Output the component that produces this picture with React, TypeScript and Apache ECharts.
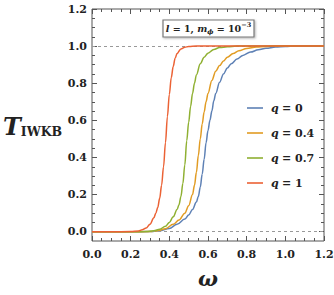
import React, { useEffect, useRef } from 'react';
import * as echarts from 'echarts';

// Tick positions
const xMajorTicks = [0, 0.2, 0.4, 0.6, 0.8, 1.0, 1.2];
const xMinorTicks = [0.05, 0.1, 0.15, 0.25, 0.3, 0.35, 0.45, 0.5, 0.55, 0.65, 0.7, 0.75, 0.85, 0.9, 0.95, 1.05, 1.1, 1.15];
const yMajorTicks = [0, 0.2, 0.4, 0.6, 0.8, 1.0, 1.2];
const yMinorTicks = [0.05, 0.1, 0.15, 0.25, 0.3, 0.35, 0.45, 0.5, 0.55, 0.65, 0.7, 0.75, 0.85, 0.9, 0.95, 1.05, 1.1, 1.15];
const referenceLevels = [0, 1];

const seriesNames = ['q = 0', 'q = 0.4', 'q = 0.7', 'q = 1'];

// q = 0
const q0Omega = [0, 0.2, 0.3, 0.35, 0.4, 0.44, 0.48, 0.5, 0.52, 0.54, 0.55, 0.56, 0.57, 0.58, 0.59, 0.6, 0.61, 0.62, 0.63, 0.64, 0.66, 0.68, 0.7, 0.72, 0.75, 0.78, 0.82, 0.86, 0.9, 0.95, 1.0, 1.05, 1.2];
const q0T = [0, 0, 0.001, 0.005, 0.018, 0.04, 0.068, 0.09, 0.12, 0.16, 0.19, 0.24, 0.31, 0.39, 0.48, 0.545, 0.6, 0.65, 0.705, 0.745, 0.805, 0.85, 0.882, 0.905, 0.93, 0.95, 0.968, 0.98, 0.988, 0.995, 0.998, 1, 1];

// q = 0.4
const q04Omega = [0, 0.2, 0.3, 0.34, 0.38, 0.42, 0.45, 0.48, 0.5, 0.52, 0.53, 0.54, 0.55, 0.56, 0.57, 0.58, 0.59, 0.6, 0.62, 0.64, 0.66, 0.68, 0.7, 0.73, 0.76, 0.8, 0.85, 0.9, 0.95, 1.0, 1.2];
const q04T = [0, 0, 0.001, 0.005, 0.016, 0.04, 0.063, 0.1, 0.14, 0.2, 0.25, 0.32, 0.41, 0.5, 0.58, 0.645, 0.7, 0.745, 0.815, 0.865, 0.895, 0.92, 0.94, 0.96, 0.975, 0.987, 0.995, 0.998, 1, 1, 1];

// q = 0.7
const q07Omega = [0, 0.2, 0.28, 0.32, 0.35, 0.38, 0.4, 0.42, 0.44, 0.45, 0.46, 0.47, 0.48, 0.49, 0.5, 0.51, 0.52, 0.53, 0.54, 0.56, 0.58, 0.6, 0.63, 0.66, 0.7, 0.75, 0.8, 1.0, 1.2];
const q07T = [0, 0, 0.001, 0.005, 0.013, 0.03, 0.05, 0.08, 0.12, 0.145, 0.19, 0.26, 0.36, 0.49, 0.59, 0.675, 0.745, 0.8, 0.845, 0.905, 0.94, 0.962, 0.982, 0.992, 0.997, 1, 1, 1, 1];

// q = 1
const q1Omega = [0, 0.1, 0.2, 0.24, 0.26, 0.28, 0.3, 0.32, 0.33, 0.34, 0.35, 0.36, 0.37, 0.38, 0.39, 0.4, 0.41, 0.42, 0.43, 0.44, 0.46, 0.48, 0.5, 0.54, 0.6, 0.8, 1.0, 1.2];
const q1T = [0, 0, 0.001, 0.004, 0.01, 0.02, 0.04, 0.075, 0.1, 0.13, 0.18, 0.25, 0.35, 0.48, 0.62, 0.74, 0.83, 0.89, 0.935, 0.96, 0.985, 0.994, 0.998, 1, 1, 1, 1, 1];

const seriesOmega = [q0Omega, q04Omega, q07Omega, q1Omega];
const seriesT = [q0T, q04T, q07T, q1T];
const seriesColors = ['#5E81B5', '#E19C24', '#8FB032', '#EB6235'];

const FONT = 'DejaVu Serif';
const FRAME = '#555';
const TEXT = '#222';

function makeAxis(kind: 'x' | 'y', position: string, ticks: number[], len: number, labels: boolean) {
  const isX = kind === 'x';
  return {
    type: 'value',
    position,
    min: isX ? 0 : -0.05,
    max: 1.2,
    axisLine: { show: false, onZero: false },
    splitLine: { show: false },
    axisTick: {
      show: true,
      inside: true,
      length: len,
      customValues: ticks,
      lineStyle: { color: FRAME, width: 1 },
    },
    axisLabel: labels
      ? {
          show: true,
          customValues: ticks,
          formatter: (v: number) => v.toFixed(1),
          fontFamily: FONT,
          fontWeight: 'bold',
          fontSize: 11,
          color: TEXT,
          margin: isX ? 8 : 5,
        }
      : { show: false },
  };
}

export default function App() {
  const ref = useRef<HTMLDivElement>(null);

  useEffect(() => {
    if (!ref.current) return;
    const chart = echarts.init(ref.current, undefined, { renderer: 'svg' });

    const xAxes: any[] = [
      makeAxis('x', 'bottom', xMajorTicks, 5, true),
      makeAxis('x', 'bottom', xMinorTicks, 3, false),
      makeAxis('x', 'top', xMajorTicks, 5, false),
      makeAxis('x', 'top', xMinorTicks, 3, false),
    ];
    xAxes[0].name = 'ω';
    xAxes[0].nameLocation = 'middle';
    xAxes[0].nameGap = 27;
    xAxes[0].nameTextStyle = {
      fontFamily: FONT,
      fontStyle: 'italic',
      fontWeight: 'bold',
      fontSize: 21,
      color: TEXT,
    };

    const yAxes: any[] = [
      makeAxis('y', 'left', yMajorTicks, 5, true),
      makeAxis('y', 'left', yMinorTicks, 3, false),
      makeAxis('y', 'right', yMajorTicks, 5, false),
      makeAxis('y', 'right', yMinorTicks, 3, false),
    ];

    const lineSeries = seriesNames.map((name, i) => ({
      name,
      type: 'line',
      xAxisIndex: 0,
      yAxisIndex: 0,
      data: seriesOmega[i].map((w, j) => [w, seriesT[i][j]]),
      symbol: 'none',
      smooth: 0.35,
      smoothMonotone: 'x',
      lineStyle: { color: seriesColors[i], width: 1.5 },
      itemStyle: { color: seriesColors[i] },
      z: 3 + i,
    }));

    const option: any = {
      animation: false,
      grid: {
        left: 92,
        right: 10,
        top: 9,
        bottom: 54,
        outerBoundsMode: 'none',
        containLabel: false,
        show: true,
        borderColor: FRAME,
        borderWidth: 1,
        backgroundColor: 'transparent',
      },
      xAxis: xAxes,
      yAxis: yAxes,
      legend: {
        orient: 'vertical',
        left: 242,
        top: 96,
        icon: 'rect',
        itemWidth: 16,
        itemHeight: 1.6,
        itemGap: 11,
        data: seriesNames,
        formatter: (name: string) => `{i|q} {r|= ${name.split('= ')[1]}}`,
        textStyle: {
          padding: [0, 0, 0, 3],
          lineHeight: 14,
          rich: {
            i: { fontFamily: FONT, fontStyle: 'italic', fontWeight: 'bold', fontSize: 11, color: TEXT, lineHeight: 14 },
            r: { fontFamily: FONT, fontWeight: 'bold', fontSize: 11, color: TEXT, lineHeight: 14 },
          },
        },
      },
      series: [
        {
          name: 'reference',
          type: 'line',
          data: [],
          z: 2,
          markLine: {
            silent: true,
            symbol: ['none', 'none'],
            label: { show: false },
            lineStyle: { color: '#999', type: [3, 3], width: 1 },
            data: referenceLevels.map((v) => ({ yAxis: v })),
          },
        },
        ...lineSeries,
      ],
      graphic: [
        {
          type: 'text',
          x: 3,
          y: 125,
          z: 11,
          style: {
            text: '{T|T}{s|IWKB}',
            align: 'left',
            verticalAlign: 'middle',
            fill: TEXT,
            rich: {
              T: { fontFamily: FONT, fontStyle: 'italic', fontWeight: 'bold', fontSize: 24, fill: TEXT, lineHeight: 26, verticalAlign: 'bottom' },
              s: { fontFamily: FONT, fontWeight: 'bold', fontSize: 12.5, fill: TEXT, lineHeight: 14, verticalAlign: 'bottom' },
            },
          },
        },
        {
          type: 'rect',
          shape: { x: 163, y: 20, width: 91, height: 17 },
          style: {
            fill: '#fff',
            stroke: '#777',
            lineWidth: 1.2,
            shadowBlur: 2,
            shadowOffsetX: 1,
            shadowOffsetY: 1,
            shadowColor: 'rgba(0,0,0,0.3)',
          },
          z: 10,
        },
        {
          type: 'text',
          x: 208.5,
          y: 28.5,
          z: 11,
          style: {
            text: '{i|l} {r|= 1,} {i|m}{sub|ϕ} {r|= 10}{sup|−3}',
            align: 'center',
            verticalAlign: 'middle',
            fill: TEXT,
            rich: {
              i: { fontFamily: FONT, fontStyle: 'italic', fontWeight: 'bold', fontSize: 9.5, fill: TEXT, lineHeight: 14, verticalAlign: 'middle' },
              r: { fontFamily: FONT, fontWeight: 'bold', fontSize: 9.5, fill: TEXT, lineHeight: 14, verticalAlign: 'middle' },
              sub: { fontFamily: FONT, fontStyle: 'italic', fontWeight: 'bold', fontSize: 6.5, fill: TEXT, verticalAlign: 'bottom', lineHeight: 9 },
              sup: { fontFamily: FONT, fontWeight: 'bold', fontSize: 6.5, fill: TEXT, verticalAlign: 'top', lineHeight: 9 },
            },
          },
        },
      ],
    };

    chart.setOption(option);
    return () => chart.dispose();
  }, []);

  return (
    <div
      ref={ref}
      style={{ position: 'fixed', left: 0, top: 0, width: 334, height: 295, background: '#fff' }}
    />
  );
}
